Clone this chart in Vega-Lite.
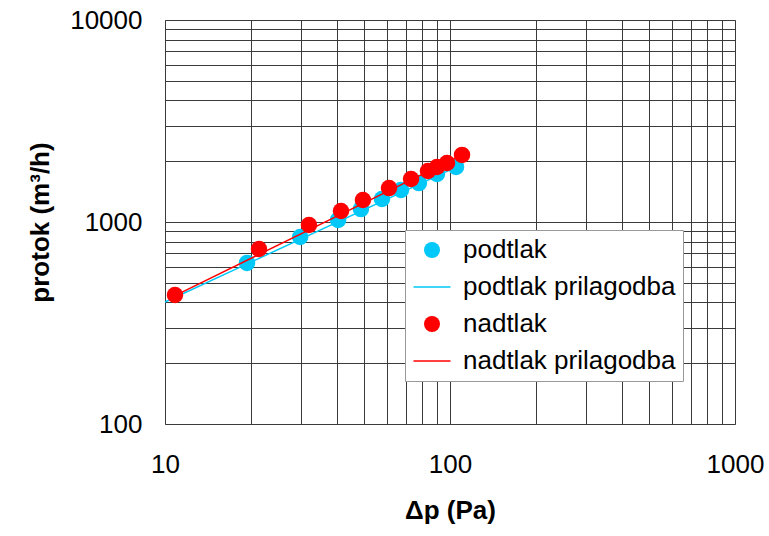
{
  "$schema": "https://vega.github.io/schema/vega-lite/v6.json",
  "autosize": {"type": "none"},
  "padding": {"left": 165, "top": 20, "right": 34, "bottom": 112},
  "width": 570,
  "height": 404,
  "background": "white",
  "data": {
    "values": [
      {"dp": 19.4, "q": 627, "series": "podtlak"},
      {"dp": 29.8, "q": 843, "series": "podtlak"},
      {"dp": 40.5, "q": 1024, "series": "podtlak"},
      {"dp": 48.7, "q": 1159, "series": "podtlak"},
      {"dp": 57.7, "q": 1300, "series": "podtlak"},
      {"dp": 67.3, "q": 1440, "series": "podtlak"},
      {"dp": 77.8, "q": 1559, "series": "podtlak"},
      {"dp": 90.0, "q": 1730, "series": "podtlak"},
      {"dp": 105.0, "q": 1873, "series": "podtlak"},
      {"dp": 10.0, "q": 402, "series": "podtlak prilagodba"},
      {"dp": 105.0, "q": 1870, "series": "podtlak prilagodba"},
      {"dp": 10.84, "q": 435, "series": "nadtlak"},
      {"dp": 21.37, "q": 735, "series": "nadtlak"},
      {"dp": 32.0, "q": 966, "series": "nadtlak"},
      {"dp": 41.45, "q": 1134, "series": "nadtlak"},
      {"dp": 49.5, "q": 1285, "series": "nadtlak"},
      {"dp": 61.1, "q": 1472, "series": "nadtlak"},
      {"dp": 73.0, "q": 1633, "series": "nadtlak"},
      {"dp": 83.7, "q": 1788, "series": "nadtlak"},
      {"dp": 90.0, "q": 1872, "series": "nadtlak"},
      {"dp": 97.6, "q": 1959, "series": "nadtlak"},
      {"dp": 110.2, "q": 2148, "series": "nadtlak"},
      {"dp": 10.84, "q": 432, "series": "nadtlak prilagodba"},
      {"dp": 110.2, "q": 2150, "series": "nadtlak prilagodba"}
    ]
  },
  "encoding": {
    "x": {
      "field": "dp", "type": "quantitative",
      "scale": {"type": "log", "domain": [10, 1000], "nice": false},
      "axis": {
        "title": "Δp (Pa)",
        "values": [10,20,30,40,50,60,70,80,90,100,200,300,400,500,600,700,800,900,1000],
        "format": "d",
        "labelExpr": "datum.value==10||datum.value==100||datum.value==1000 ? datum.label : ''",
        "labelPadding": 27,
        "titlePadding": 20
      }
    },
    "y": {
      "field": "q", "type": "quantitative",
      "scale": {"type": "log", "domain": [100, 10000], "nice": false},
      "axis": {
        "title": "protok (m³/h)",
        "values": [100,200,300,400,500,600,700,800,900,1000,2000,3000,4000,5000,6000,7000,8000,9000,10000],
        "format": "d",
        "labelExpr": "datum.value==100||datum.value==1000||datum.value==10000 ? datum.label : ''",
        "labelPadding": 23,
        "titlePadding": 16
      }
    },
    "color": {
      "field": "series", "type": "nominal",
      "scale": {
        "domain": ["podtlak", "podtlak prilagodba", "nadtlak", "nadtlak prilagodba"],
        "range": ["#00C8F8", "#00C8F8", "#FF0000", "#FF0000"]
      },
      "legend": {
        "title": null,
        "orient": "none",
        "legendX": 240,
        "legendY": 210,
        "symbolSize": 1369,
        "symbolOffset": 7,
        "labelFontSize": 26,
        "labelFont": "Liberation Sans",
        "labelColor": "#000",
        "labelOffset": 18,
        "labelLimit": 400,
        "rowPadding": 11,
        "padding": 7,
        "strokeColor": "#999",
        "fillColor": "white",
        "encode": {
          "symbols": {
            "update": {
              "shape": {"signal": "datum.index % 2 == 1 ? 'stroke' : 'circle'"},
              "size": {"signal": "datum.index % 2 == 1 ? 1369 : 256"},
              "fill": {"signal": "datum.index % 2 == 1 ? 'transparent' : (datum.index < 2 ? '#00C8F8' : '#FF0000')"},
              "stroke": {"signal": "datum.index < 2 ? '#00C8F8' : '#FF0000'"},
              "strokeWidth": {"signal": "datum.index % 2 == 1 ? 1.5 : 0"}
            }
          }
        }
      }
    }
  },
  "layer": [
    {
      "transform": [{"filter": "datum.series == 'podtlak'"}],
      "mark": {"type": "point", "filled": true, "opacity": 1, "size": 272, "shape": "circle"},
      "encoding": {}
    },
    {
      "transform": [{"filter": "datum.series == 'podtlak prilagodba'"}],
      "mark": {"type": "line", "strokeWidth": 1.5},
      "encoding": {}
    },
    {
      "transform": [{"filter": "datum.series == 'nadtlak'"}],
      "mark": {"type": "point", "filled": true, "opacity": 1, "size": 272, "shape": "circle"},
      "encoding": {}
    },
    {
      "transform": [{"filter": "datum.series == 'nadtlak prilagodba'"}],
      "mark": {"type": "line", "strokeWidth": 1.5},
      "encoding": {}
    }
  ],
  "config": {
    "view": {"stroke": "#8c8c8c", "strokeWidth": 1},
    "axis": {
      "domain": false,
      "ticks": false,
      "grid": true,
      "gridColor": "#3a3a3a",
      "gridWidth": 1,
      "gridOpacity": 1,
      "labelFont": "Liberation Sans",
      "labelFontSize": 26,
      "labelColor": "#000",
      "labelFlush": false,
      "labelOverlap": false,
      "labelBound": false,
      "titleFont": "Liberation Sans",
      "titleFontSize": 26,
      "titleFontWeight": "bold",
      "titleColor": "#000"
    }
  }
}
